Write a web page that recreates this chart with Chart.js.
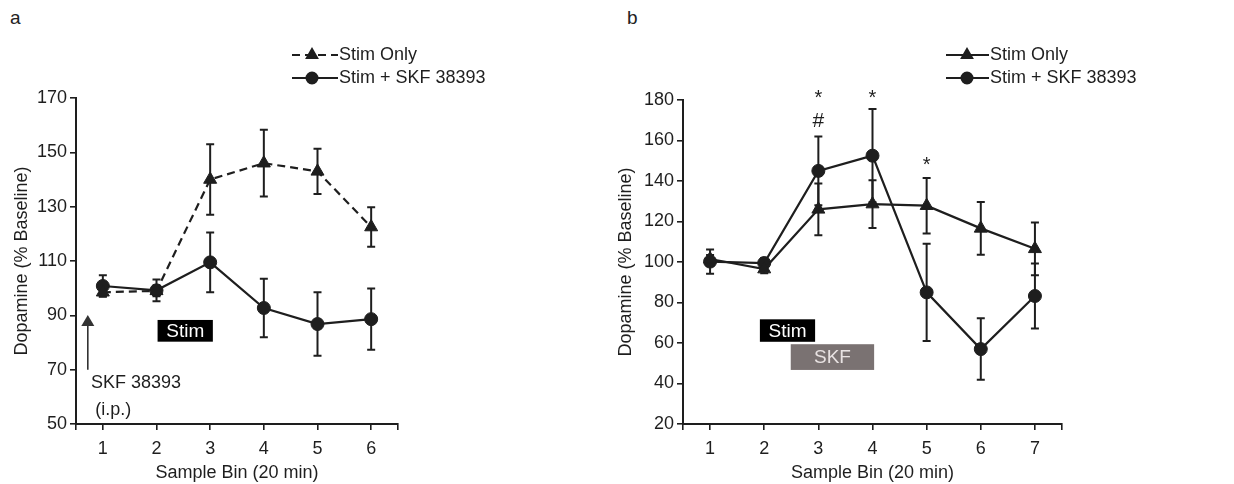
<!DOCTYPE html>
<html>
<head>
<meta charset="utf-8">
<script src="https://cdn.jsdelivr.net/npm/chart.js@4.4.0/dist/chart.umd.min.js"></script>
<style>
  html, body { margin: 0; padding: 0; background: #fff; }
  body { width: 1234px; height: 484px; position: relative; overflow: hidden; font-family: "Liberation Sans", Arial, sans-serif; }
  canvas { position: absolute; top: 0; }
  #chart-a { left: 0; }
  #chart-b { left: 604px; }
  .panel-label { position: absolute; top: 7px; font-size: 19px; color: #222; }
</style>
</head>
<body>
<div class="panel-label" style="left:10px">a</div>
<div class="panel-label" style="left:627px">b</div>
<canvas id="chart-a" width="604" height="484"></canvas>
<canvas id="chart-b" width="630" height="484"></canvas>
<script>
// panel a
const binsA = [1, 2, 3, 4, 5, 6];
const stimOnlyA = [98.5, 99, 140, 146, 143, 122.5];
const stimOnlyErrA = [1.5, 2, 13, 12.3, 8.3, 7.3];
const stimSkfA = [100.8, 99.2, 109.5, 92.7, 86.8, 88.6];
const stimSkfErrA = [4, 4, 11, 10.8, 11.7, 11.3];

// panel b
const binsB = [1, 2, 3, 4, 5, 6, 7];
const stimOnlyB = [101.5, 96.5, 126, 128.6, 127.8, 116.6, 106.5];
const stimOnlyErrB = [2, 2, 12.8, 11.8, 13.7, 13, 13];
const stimSkfB = [100.2, 99.5, 145, 152.5, 85, 57, 83.2];
const stimSkfErrB = [6, 2.5, 17, 23, 24, 15.2, 16];

const seriesNames = ["Stim Only", "Stim + SKF 38393"];

const INK = "#1e1e1e";
const FONT = '"Liberation Sans", Arial, sans-serif';

function points(bins, vals) {
  return bins.map((b, i) => ({ x: b, y: vals[i] }));
}

// error bars under the markers
const errorBars = {
  id: "errorBars",
  beforeDatasetsDraw(chart) {
    const { ctx, scales: { x, y } } = chart;
    ctx.save();
    ctx.strokeStyle = INK;
    ctx.lineWidth = 2;
    chart.data.datasets.forEach(ds => {
      ds.data.forEach((p, i) => {
        const e = ds.errors[i];
        const px = x.getPixelForValue(p.x);
        const top = y.getPixelForValue(p.y + e);
        const bot = y.getPixelForValue(p.y - e);
        ctx.beginPath();
        ctx.moveTo(px, top); ctx.lineTo(px, bot);
        ctx.moveTo(px - 4, top); ctx.lineTo(px + 4, top);
        ctx.moveTo(px - 4, bot); ctx.lineTo(px + 4, bot);
        ctx.stroke();
      });
    });
    ctx.restore();
  }
};

// legend drawn above the plot, right side
function legendPlugin(lineX0, lineX1, markX, rowY) {
  return {
    id: "sideLegend",
    afterDraw(chart) {
      const { ctx, chartArea } = chart;
      ctx.save();
      chart.data.datasets.forEach((ds, i) => {
        const y = chartArea.top + rowY[i];
        ctx.strokeStyle = INK;
        ctx.lineWidth = 2;
        ctx.setLineDash(ds.borderDash || []);
        ctx.beginPath();
        ctx.moveTo(chartArea.left + lineX0, y);
        ctx.lineTo(chartArea.left + lineX1, y);
        ctx.stroke();
        ctx.setLineDash([]);
        ctx.fillStyle = INK;
        Chart.helpers.drawPoint(ctx, {
          pointStyle: ds.pointStyle, radius: ds.pointStyle === "triangle" ? 6 : 5.5, rotation: 0, borderWidth: 1
        }, chartArea.left + markX, y);
        ctx.fillStyle = INK;
        ctx.font = "18px " + FONT;
        ctx.textBaseline = "middle";
        ctx.textAlign = "left";
        ctx.fillText(ds.label, chartArea.left + lineX1 + 1, y);
      });
      ctx.restore();
    }
  };
}

// boxes, arrows and notes placed in data space
function marksPlugin(spec) {
  return {
    id: "marks",
    afterDatasetsDraw(chart) {
      const { ctx, scales: { x, y } } = chart;
      ctx.save();
      (spec.boxes || []).forEach(b => {
        const x0 = x.getPixelForValue(b.x0), x1 = x.getPixelForValue(b.x1);
        const y0 = y.getPixelForValue(b.y1), y1 = y.getPixelForValue(b.y0);
        ctx.fillStyle = b.fill;
        ctx.fillRect(x0, y0, x1 - x0, y1 - y0);
        ctx.fillStyle = b.color;
        ctx.font = "19px " + FONT;
        ctx.textAlign = "center";
        ctx.textBaseline = "middle";
        ctx.fillText(b.text, (x0 + x1) / 2, (y0 + y1) / 2 + 1);
      });
      (spec.arrows || []).forEach(a => {
        const px = x.getPixelForValue(a.x);
        const tip = y.getPixelForValue(a.to), tail = y.getPixelForValue(a.from);
        ctx.strokeStyle = "#333";
        ctx.lineWidth = 1.6;
        ctx.beginPath();
        ctx.moveTo(px, tail); ctx.lineTo(px, tip + 8);
        ctx.stroke();
        ctx.fillStyle = "#333";
        ctx.beginPath();
        ctx.moveTo(px, tip);
        ctx.lineTo(px - 6.5, tip + 11);
        ctx.lineTo(px + 6.5, tip + 11);
        ctx.closePath();
        ctx.fill();
      });
      (spec.notes || []).forEach(n => {
        ctx.fillStyle = INK;
        ctx.font = (n.size || 18) + "px " + FONT;
        ctx.textAlign = n.align || "left";
        ctx.textBaseline = "middle";
        ctx.fillText(n.text, x.getPixelForValue(n.x), y.getPixelForValue(n.y) + (n.dy || 0));
      });
      ctx.restore();
    }
  };
}

function makeChart(id, bins, sets, yMin, yMax, yWidth, padRight, padTop, plugins) {
  const canvas = document.getElementById(id);
  const tickFont = { size: 18, family: FONT };
  return new Chart(canvas, {
    type: "line",
    data: {
      datasets: sets.map(s => ({
        label: s.label,
        data: points(bins, s.values),
        errors: s.errors,
        borderColor: INK,
        borderWidth: 2.2,
        borderDash: s.dash || [],
        pointStyle: s.pointStyle,
        pointRadius: s.radius,
        pointBackgroundColor: INK,
        pointBorderColor: INK,
        pointBorderWidth: 1,
        tension: 0
      }))
    },
    options: {
      responsive: false,
      devicePixelRatio: 1,
      animation: false,
      layout: { padding: { left: 0, right: padRight, top: padTop, bottom: 0 } },
      plugins: { legend: { display: false }, tooltip: { enabled: false } },
      scales: {
        x: {
          type: "linear",
          min: 0.5,
          max: bins.length + 0.5,
          afterBuildTicks: s => {
            s.ticks = [0.5, ...bins, bins.length + 0.5].map(v => ({ value: v }));
          },
          afterFit: s => { s.height = 60; },
          grid: { drawOnChartArea: false, tickLength: 6, color: INK, lineWidth: 1.6 },
          border: { color: INK, width: 2 },
          ticks: {
            callback: v => Number.isInteger(v) ? v : "",
            color: INK, font: tickFont, padding: 8, maxRotation: 0, autoSkip: false
          },
          title: { display: true, text: "Sample Bin (20 min)", color: INK, font: tickFont, padding: 0 }
        },
        y: {
          min: yMin,
          max: yMax,
          afterFit: s => { s.width = yWidth; },
          grid: { drawOnChartArea: false, tickLength: 6, color: INK, lineWidth: 1.6 },
          border: { color: INK, width: 2 },
          ticks: { stepSize: 20, color: INK, font: tickFont, padding: 3 },
          title: {
            display: true, text: "Dopamine (% Baseline)", color: INK, font: tickFont,
            padding: { top: 11, bottom: 0 }
          }
        }
      }
    },
    plugins: [errorBars, ...plugins]
  });
}

makeChart("chart-a", binsA, [
  { label: seriesNames[0], values: stimOnlyA, errors: stimOnlyErrA, dash: [8, 5], pointStyle: "triangle", radius: 7.5 },
  { label: seriesNames[1], values: stimSkfA, errors: stimSkfErrA, pointStyle: "circle", radius: 6.5 }
], 50, 170, 76, 206, 98, [
  legendPlugin(216, 262, 236, [-43, -20]),
  marksPlugin({
    boxes: [{ x0: 2.02, x1: 3.05, y0: 80.3, y1: 88.3, fill: "#000", color: "#fff", text: "Stim" }],
    arrows: [{ x: 0.72, from: 70, to: 90.1 }],
    notes: [
      { text: "SKF 38393", x: 0.78, y: 65.1 },
      { text: "(i.p.)", x: 0.86, y: 55.2 }
    ]
  })
]);

makeChart("chart-b", binsB, [
  { label: seriesNames[0], values: stimOnlyB, errors: stimOnlyErrB, pointStyle: "triangle", radius: 7.5 },
  { label: seriesNames[1], values: stimSkfB, errors: stimSkfErrB, pointStyle: "circle", radius: 6.5 }
], 20, 180, 79, 172, 100, [
  legendPlugin(263, 306, 284, [-45, -22]),
  marksPlugin({
    boxes: [
      { x0: 1.92, x1: 2.94, y0: 60.6, y1: 71.7, fill: "#000", color: "#fff", text: "Stim" },
      { x0: 2.49, x1: 4.03, y0: 46.7, y1: 59.4, fill: "#7a7272", color: "#e8e2e2", text: "SKF" }
    ],
    notes: [
      { text: "*", x: 3, y: 182.5, size: 20, align: "center", dy: 4 },
      { text: "#", x: 3, y: 169.3, size: 21, align: "center", dy: 0 },
      { text: "*", x: 4, y: 182.5, size: 20, align: "center", dy: 4 },
      { text: "*", x: 5, y: 149.4, size: 20, align: "center", dy: 4 }
    ]
  })
]);
</script>
</body>
</html>
